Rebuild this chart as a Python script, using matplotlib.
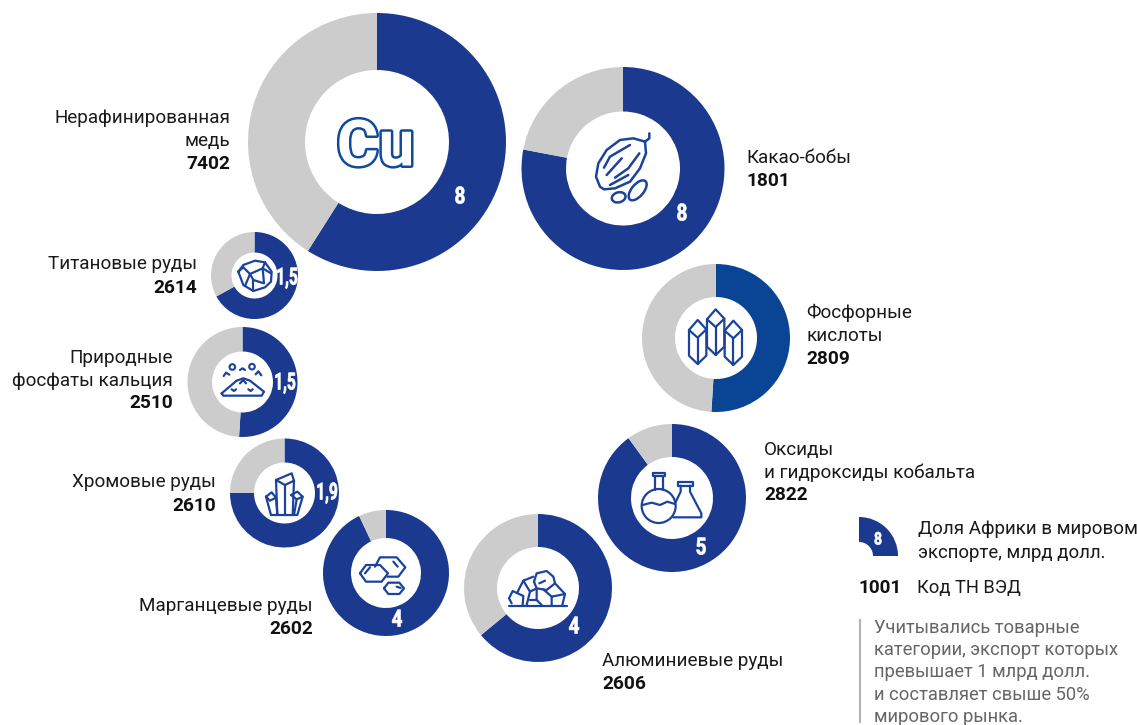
import numpy as np
import matplotlib
matplotlib.use("Agg")
import matplotlib.pyplot as plt
import matplotlib.patheffects as pe
from matplotlib.patches import Circle, Ellipse, Wedge
from matplotlib.transforms import Affine2D

# Donut data: share of the dark slice in percent, label value, HS code
names = ["Cu", "Какао-бобы", "Фосфорные", "Оксиды", "Алюминиевые", "Марганцевые", "Хромовые", "Фосфаты", "Титановые"]
shares = [59, 78, 51, 90, 64, 93, 75, 51, 67]
values = ["8", "8", "", "5", "4", "4", "1,9", "1,5", "1,5"]
codes = ["7402", "1801", "2809", "2822", "2606", "2602", "2610", "2510", "2614"]
label_lines = [
    ["Нерафинированная", "медь"],
    ["Какао-бобы"],
    ["Фосфорные", "кислоты"],
    ["Оксиды", "и гидроксиды кобальта"],
    ["Алюминиевые руды"],
    ["Марганцевые руды"],
    ["Хромовые руды"],
    ["Природные", "фосфаты кальция"],
    ["Титановые руды"],
]

# layout in picture pixels
centers = [(377, 142), (623, 168.5), (716, 338), (672, 498), (538, 588), (386, 573), (284.5, 493), (242.5, 382), (254.5, 275.5)]
outer = [129, 101.5, 74, 74, 74, 63, 54.5, 55, 43.5]
inner = [72, 57, 41, 41, 41, 35, 30.5, 30.5, 23]
value_pos = [(460, 197), (682, 214), None, (701, 548), (574, 627), (397, 620), (327, 493), (285, 383), (287, 278)]
label_pos = [(230, 118), (746.5, 158), (806.5, 313), (764, 450), (602, 661), (313, 606), (216, 482), (173, 358), (197, 264)]
label_ha = ["right", "left", "left", "left", "left", "right", "right", "right", "right"]
line_step = [23, 23, 23, 22.5, 23, 23, 24, 22.5, 24]

DARK = "#1b3a8f"
PHOS = "#0a4595"
GRAY = "#cccccc"
ICON = "#1c439b"
TEXT = "#1a1a1a"

plt.rcParams["font.family"] = ["Roboto", "DejaVu Sans"]

fig = plt.figure(figsize=(11.37, 7.25), dpi=100)
ax = fig.add_axes([0, 0, 1, 1])


def Y(y):
    return 725 - y


class Squeeze(pe.AbstractPathEffect):
    # no condensed face is installed, so narrow the glyphs around the text anchor
    def __init__(self, x, y, k):
        super().__init__()
        self.x, self.y, self.k = x, y, k

    def draw_path(self, renderer, gc, tpath, affine, rgbFace=None):
        squeeze = Affine2D().translate(-self.x, -self.y).scale(self.k, 1).translate(self.x, self.y)
        gc0 = renderer.new_gc()
        gc0.copy_properties(gc)
        gc0.set_foreground("white")
        gc0.set_linewidth(0.5)
        renderer.draw_path(gc0, tpath, affine + squeeze, rgbFace)
        gc0.restore()


def narrow_text(x, y, s, size):
    # axes fill the figure 1:1 with pixels, so x and Y(y) are display coords too
    k = 0.8 if len(s) == 1 else 0.66
    ax.text(x, Y(y), s, color="white", fontsize=size, weight="bold", ha="center", va="center", zorder=6,
            path_effects=[Squeeze(x, Y(y), k)])


for i in range(len(names)):
    cx, cy = centers[i]
    color = PHOS if names[i] == "Фосфорные" else DARK
    ax.pie([shares[i], 100 - shares[i]], colors=[color, GRAY], startangle=90, counterclock=False,
           center=(cx, Y(cy)), radius=outer[i],
           wedgeprops=dict(width=outer[i] - inner[i], linewidth=0))
    if value_pos[i] is not None:
        narrow_text(value_pos[i][0], value_pos[i][1], values[i], 17)
    x, y = label_pos[i]
    for line in label_lines[i]:
        ax.text(x, Y(y), line, fontsize=13.6, color=TEXT, ha=label_ha[i], va="center")
        y += line_step[i]
    ax.text(x, Y(y), codes[i], fontsize=13.8, color="#111111", weight="bold", ha=label_ha[i], va="center")

ax.set_xlim(0, 1137)
ax.set_ylim(0, 725)
ax.set_aspect("equal")
ax.axis("off")


def ink(ox, oy, pts, lw=1.6, close=False, color=ICON):
    pts = np.array(pts, dtype=float)
    if close:
        pts = np.vstack([pts, pts[:1]])
    ax.plot(ox + pts[:, 0] / 3, Y(oy + pts[:, 1] / 3), color=color, lw=lw,
            solid_joinstyle="round", solid_capstyle="round", zorder=5)


# Cu
ax.text(375.5, Y(148), "Cu", fontsize=46, weight="bold", color="white", ha="center", va="center", zorder=5,
        path_effects=[pe.Stroke(linewidth=3.6, foreground="#0f4a9c"), pe.Normal()])

# cocoa pod
o = (590, 125)
ink(*o, [(165, 50), (130, 40), (90, 45), (50, 75), (25, 115), (18, 155), (30, 185), (42, 193), (75, 190), (120, 170),
         (150, 130), (168, 85), (165, 50)], lw=1.8)
ink(*o, [(165, 50), (178, 40), (178, 25)], lw=1.8)
ink(*o, [(42, 128), (60, 95), (120, 60)], lw=1.8)
ink(*o, [(50, 150), (95, 100)], lw=1.8)
ink(*o, [(75, 158), (115, 130), (148, 85)], lw=1.8)
ink(*o, [(60, 180), (115, 150)], lw=1.8)
ax.add_patch(Ellipse((590 + 86 / 3, Y(125 + 217 / 3)), 14, 10, angle=15, fill=False, ec=ICON, lw=1.8, zorder=5))
ax.add_patch(Ellipse((590 + 143 / 3, Y(125 + 196 / 3)), 24, 12, angle=50, fill=False, ec=ICON, lw=1.8, zorder=5))

# phosphoric acid crystals
o = (680, 300)
for xc, top, bot in [(53, 60, 192), (107, 28, 165), (160, 62, 195)]:
    ink(*o, [(xc - 26, top + 30), (xc, top), (xc + 26, top + 28), (xc + 26, bot - 25), (xc, bot), (xc - 26, bot - 25)], close=True)
    ink(*o, [(xc - 26, top + 30), (xc, top + 53), (xc + 26, top + 28)])
    ink(*o, [(xc, top + 53), (xc, bot)])

# cobalt flasks
o = (330, 310)
ink(*o, [(970, 488), (1004, 488), (1004, 498), (970, 498)], close=True)
ink(*o, [(976, 498), (976, 540)])
ink(*o, [(998, 498), (998, 540)])
ax.add_patch(Circle((330 + 986 / 3, Y(310 + 588 / 3)), 17, fill=False, ec=ICON, lw=1.6, zorder=5))
ink(*o, [(938, 585), (965, 578), (990, 585), (1012, 575), (1035, 582)])
ink(*o, [(1044, 516), (1089, 516), (1089, 527), (1044, 527)], close=True)
ink(*o, [(1052, 527), (1052, 545), (1036, 578)])
ink(*o, [(1080, 527), (1080, 545), (1114, 610), (1114, 622), (1030, 622)])

# bauxite rocks
ink(*o, [(536, 887), (710, 887)])
ink(*o, [(545, 880), (537, 865), (548, 843), (580, 858), (578, 885)])
ink(*o, [(562, 848), (568, 835), (580, 812), (610, 800)])
ink(*o, [(612, 815), (620, 790), (650, 783), (670, 800), (675, 820), (650, 840), (620, 835), (612, 815)])
ink(*o, [(580, 812), (600, 845), (590, 885)])
ink(*o, [(675, 820), (705, 852), (697, 885)])
ink(*o, [(640, 838), (665, 860), (665, 885)])
ink(*o, [(665, 860), (705, 852)])
ink(*o, [(600, 845), (620, 835), (620, 870), (600, 870)])
ink(*o, [(620, 870), (635, 885)])
ink(*o, [(628, 820), (645, 812)])

# manganese hexagons
ink(*o, [(135, 770), (150, 742), (200, 742), (226, 772), (205, 800), (172, 800)])
ink(*o, [(90, 790), (108, 765), (150, 765), (174, 790), (155, 815), (108, 815)], close=True)
ink(*o, [(105, 790), (120, 772)])
ink(*o, [(162, 835), (175, 818), (208, 818), (222, 835), (208, 852), (175, 852)], close=True)
ink(*o, [(190, 755), (203, 770)])
ink(*o, [(200, 830), (212, 834)])

# chromium crystals, titanium stone, phosphate pile
o = (190, 230)
ink(*o, [(258, 750), (305, 730), (312, 752), (308, 855), (262, 855)], close=True)
ink(*o, [(258, 750), (285, 765), (312, 752)])
ink(*o, [(285, 765), (285, 855)])
ink(*o, [(228, 800), (245, 787), (258, 803), (262, 855), (243, 855)], close=True)
ink(*o, [(228, 800), (240, 812), (258, 803)])
ink(*o, [(303, 795), (322, 785), (338, 800), (322, 855), (308, 855)])
ink(*o, [(303, 795), (320, 808), (338, 800)])
ink(*o, [(320, 808), (312, 855)])

ink(*o, [(145, 125), (160, 105), (195, 92), (225, 97), (245, 125), (243, 155), (225, 172), (190, 183), (160, 165)], close=True)
ink(*o, [(160, 112), (180, 132), (218, 115), (225, 97)])
ink(*o, [(160, 112), (145, 125)])
ink(*o, [(180, 132), (165, 168)])
ink(*o, [(218, 115), (243, 130)])
ink(*o, [(218, 115), (222, 160), (190, 150), (180, 132)])
ink(*o, [(190, 150), (190, 183)])

ink(*o, [(95, 490), (140, 452), (160, 445), (180, 452), (222, 485), (215, 497), (100, 497)], close=True)
ink(*o, [(150, 460), (160, 450), (168, 460)])
ink(*o, [(125, 478), (132, 483), (138, 478)])
ink(*o, [(175, 478), (182, 483), (188, 478)])
ink(*o, [(101, 438), (108, 428), (118, 434)])
ink(*o, [(150, 420), (158, 415), (165, 420)])
ink(*o, [(197, 433), (205, 424), (214, 436)])
for px, py in [(127, 411), (186, 410)]:
    ax.add_patch(Circle((190 + px / 3, Y(230 + py / 3)), 2.8, fill=False, ec=ICON, lw=1.5, zorder=5))

# legend
ax.add_patch(Wedge((859, Y(556)), 39, 0, 90, width=25, fc=DARK, lw=0))
narrow_text(878, 540, "8", 12.5)
ax.text(918, Y(529), "Доля Африки в мировом", fontsize=13.5, color=TEXT, va="center")
ax.text(918, Y(553), "экспорте, млрд долл.", fontsize=13.4, color=TEXT, va="center")
ax.text(858, Y(588), "1001", fontsize=13.6, color="#111111", weight="bold", va="center")
ax.text(917, Y(588), "Код ТН ВЭД", fontsize=13.2, color=TEXT, va="center")

note_lines = ["Учитывались товарные", "категории, экспорт которых", "превышает 1 млрд долл.",
              "и составляет свыше 50%", "мирового рынка."]
ax.plot([860, 860], [Y(620), Y(722)], color="#b3b3b3", lw=1.5)
for k, line in enumerate(note_lines):
    ax.text(874, Y(628 + k * 22.2), line, fontsize=13.2, color="#666666", va="center")

fig.savefig("out.png", dpi=100)
